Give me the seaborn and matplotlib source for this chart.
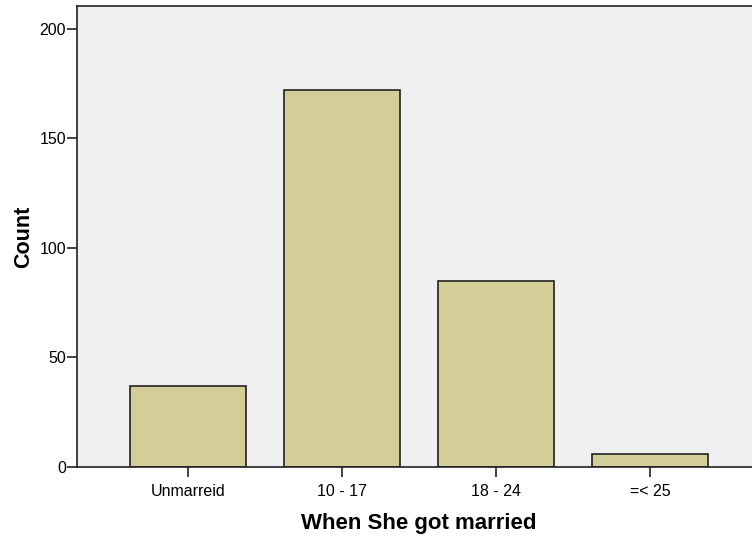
import matplotlib
matplotlib.use("Agg")
import matplotlib.pyplot as plt
import seaborn as sns
import pandas as pd

categories = ["Unmarreid", "10 - 17", "18 - 24", "=< 25"]
counts = [37, 172, 85, 6]

df = pd.DataFrame({"group": categories, "count": counts})

sns.set_style("white")
plt.rcParams["font.family"] = ["Liberation Sans", "DejaVu Sans"]
plt.rcParams["text.color"] = "black"
plt.rcParams["axes.labelcolor"] = "black"
plt.rcParams["xtick.color"] = "black"
plt.rcParams["ytick.color"] = "black"

fig = plt.figure(figsize=(7.52, 5.39), dpi=100)
ax = fig.add_axes([77 / 752, 1 - 467 / 539, 1 - 77 / 752 + 0.01, (467 - 6) / 539])
ax.set_facecolor("#EFEFEF")

sns.barplot(data=df, x="group", y="count", order=categories, color="#D3CE97",
            saturation=1, width=0.753, edgecolor="#222222", linewidth=1.2, ax=ax)

ax.set_xlim(-0.721, 3.662 + 0.05)
ax.set_ylim(0, 210.5)
ax.set_yticks([0, 50, 100, 150, 200])
ax.set_xlabel("When She got married", fontsize=16, fontweight="bold", labelpad=10)
ax.set_ylabel("Count", fontsize=15.5, fontweight="bold", labelpad=4)
ax.tick_params(axis="both", which="major", labelsize=11.5, length=7, width=1.2,
               color="#222222", labelcolor="black", direction="out",
               left=True, bottom=True)
ax.tick_params(axis="x", pad=5)
ax.tick_params(axis="y", pad=1)
for side in ["left", "bottom", "top"]:
    ax.spines[side].set_color("#222222")
    ax.spines[side].set_linewidth(1.2)
    ax.spines[side].set_visible(True)
ax.spines["right"].set_visible(False)

fig.savefig("out.png", dpi=100, facecolor="white")
